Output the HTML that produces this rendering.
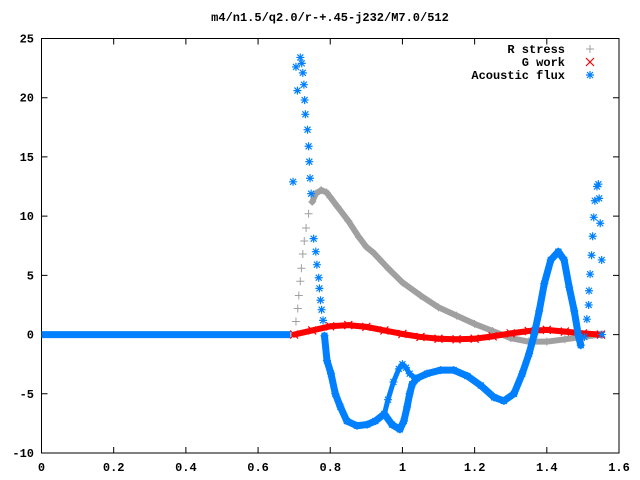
<!DOCTYPE html>
<html><head><meta charset="utf-8"><style>
body{margin:0;background:#fff}
svg{display:block}
text{font-family:"Liberation Mono",monospace;font-weight:bold;font-size:12px;fill:#000}
</style></head><body>
<svg id="chart" width="640" height="480" xmlns="http://www.w3.org/2000/svg">
<text x="330" y="21" text-anchor="middle" font-size="11">m4/n1.5/q2.0/r-+.45-j232/M7.0/512</text>
<g id="axes"></g>
<g id="plot"></g>
<g id="legend">
<text x="565" y="53" text-anchor="end">R stress</text>
<text x="565" y="66" text-anchor="end">G work</text>
<text x="565" y="79" text-anchor="end">Acoustic flux</text>
</g>
</svg>
<script>
const xTicks=[0,0.2,0.4,0.6,0.8,1,1.2,1.4,1.6];
const xTickLabels=["0","0.2","0.4","0.6","0.8","1","1.2","1.4","1.6"];
const yTicks=[-10,-5,0,5,10,15,20,25];
const yTickLabels=["-10","-5","0","5","10","15","20","25"];
const grayX=[0.705,0.71,0.713,0.717,0.72,0.724,0.728,0.733,0.74,0.75,0.76,0.775,0.79,0.8,0.82,0.85,0.88,0.9,0.92,0.96,1.0,1.05,1.1,1.15,1.2,1.25,1.3,1.35,1.4,1.45,1.5,1.55];
const grayY=[1.1,2.2,3.3,4.5,5.6,6.8,7.9,9.0,10.2,11.2,11.9,12.2,12.0,11.6,10.8,9.6,8.2,7.4,6.9,5.6,4.4,3.3,2.3,1.6,0.9,0.3,-0.3,-0.6,-0.6,-0.4,-0.2,0];
const redX=[0.7,0.75,0.8,0.85,0.9,0.95,1.0,1.05,1.1,1.15,1.2,1.25,1.3,1.35,1.4,1.45,1.5,1.55];
const redY=[0,0.35,0.7,0.8,0.65,0.35,0.05,-0.2,-0.35,-0.4,-0.35,-0.15,0.1,0.3,0.4,0.25,0.1,0];
const blueZeroX=[0,0.69];
const blueZeroY=[0,0];
const blueX=[0.697,0.705,0.709,0.717,0.721,0.724,0.727,0.729,0.731,0.737,0.74,0.742,0.744,0.747,0.754,0.76,0.763,0.768,0.77,0.773,0.776,0.78,0.784,0.791,0.802,0.814,0.828,0.846,0.874,0.902,0.925,0.95,0.971,0.993,1.004,1.013,1.02,1.027,1.04,1.068,1.106,1.142,1.18,1.217,1.254,1.281,1.309,1.332,1.351,1.365,1.379,1.393,1.411,1.432,1.448,1.462,1.476,1.487,1.494,1.504,1.511,1.516,1.517,1.52,1.524,1.527,1.53,1.533,1.539,1.543,1.545,1.548,1.552,1.553];
const blueY=[12.9,22.6,20.6,23.4,22.9,22.1,21.1,19.8,18.6,17.3,15.9,14.6,13.2,11.9,8.1,7.0,5.9,4.8,3.9,2.9,2.1,1.2,-0.1,-2.2,-3.3,-5.0,-6.1,-7.3,-7.7,-7.6,-7.3,-6.7,-7.6,-8.0,-7.3,-6.1,-5.0,-4.2,-3.7,-3.3,-3.0,-3.0,-3.5,-4.3,-5.3,-5.6,-5.0,-3.3,-1.6,0,2.0,4.3,6.3,7.0,6.3,4.0,2.0,0,-0.9,-0.2,1.3,2.5,3.7,5.1,6.7,8.3,9.9,11.3,12.5,12.7,11.5,9.4,6.3,0];
const loopX=[0.95,0.96,0.975,0.99,1.0,1.01,1.02,1.035];
const loopY=[-6.7,-5.5,-4.0,-2.9,-2.5,-2.8,-3.3,-3.7];

const X0=41.5,X1=619,Y0=453,Y1=38.5;
const xs=v=>X0+(v-0)/(1.6-0)*(X1-X0);
const ys=v=>Y0-(v+10)/35*(Y0-Y1);
const NS="http://www.w3.org/2000/svg";
function mk(tag,attrs,parent){const e=document.createElementNS(NS,tag);for(const k in attrs)e.setAttribute(k,attrs[k]);parent.appendChild(e);return e;}
const axes=document.getElementById('axes'),plot=document.getElementById('plot');
const frame=mk('rect',{x:X0,y:Y1,width:X1-X0,height:Y0-Y1,fill:'none',stroke:'#000','stroke-width':1},axes);


xTicks.forEach((t,i)=>{const x=xs(t);
 const l=mk('path',{d:`M${x} ${Y0}v-6M${x} ${Y1}v6`,stroke:'#000'},axes);
 
 
 const tx=mk('text',{x:x,y:Y0+18,'text-anchor':'middle'},axes);tx.textContent=xTickLabels[i];
 
 });
yTicks.forEach((t,i)=>{const y=ys(t);
 const l=mk('path',{d:`M${X0} ${y}h6M${X1} ${y}h-6`,stroke:'#000'},axes);
 
 
 const tx=mk('text',{x:34,y:y+4,'text-anchor':'end'},axes);tx.textContent=yTickLabels[i];
 
 });
function plus(x,y,c,g){mk('path',{d:`M${x-4} ${y}h8M${x} ${y-4}v8`,stroke:c,'stroke-width':1},g);}
function cross(x,y,c,g){mk('path',{d:`M${x-4} ${y-4}l8 8M${x-4} ${y+4}l8 -8`,stroke:c,'stroke-width':1.2},g);}
function star(x,y,c,g){mk('path',{d:`M${x-4} ${y}h8M${x} ${y-4}v8M${x-3} ${y-3}l6 6M${x-3} ${y+3}l6 -6`,stroke:c,'stroke-width':1.2},g);}
function series(X,Y,c,w,marker,name,lo,hi){
 const g=mk('g',{},plot);
 
 
 for(let i=1;i<X.length;i++){
  if(X[i-1]>=lo&&X[i]<=hi)
   mk('line',{x1:xs(X[i-1]),y1:ys(Y[i-1]),x2:xs(X[i]),y2:ys(Y[i]),stroke:c,'stroke-width':w,'stroke-linecap':'round'},g);}
 X.forEach((v,i)=>marker(xs(v),ys(Y[i]),c,g));
}
series(grayX,grayY,'#a0a0a0',6,plus,'series-r-stress',0.75,9);
series(redX,redY,'#ff0000',6,cross,'series-g-work',0.7,9);
const zg=mk('line',{x1:xs(blueZeroX[0]),y1:ys(blueZeroY[0]),x2:xs(blueZeroX[1]),y2:ys(blueZeroY[1]),stroke:'#0080ff','stroke-width':7},plot);


series(blueX,blueY,'#0080ff',7,star,'series-acoustic-flux',0.784,1.494);
series(loopX,loopY,'#0080ff',5,star,'series-acoustic-flux-loop',0.95,1.1);
const lg=document.getElementById('legend');
plus(590,49,'#a0a0a0',lg);cross(590,62,'#ff0000',lg);star(590,75,'#0080ff',lg);
</script>
</body></html>
